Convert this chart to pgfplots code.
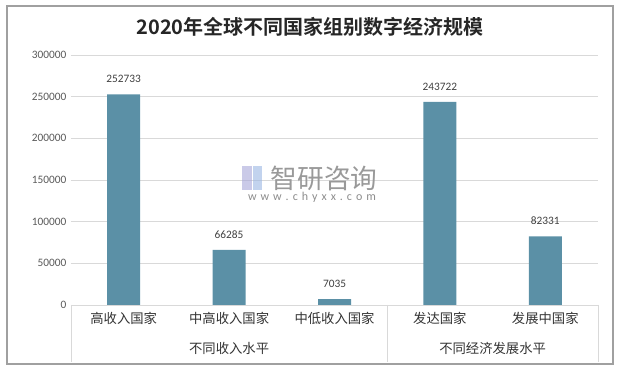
\documentclass[border=0pt]{standalone}
\usepackage{pgfplots}
\pgfplotsset{compat=1.18}
\usepackage{fontspec}
\setmainfont{Carlito}
\newfontfamily\cjk{Noto Sans CJK SC}
\newfontfamily\cjkb{Noto Sans CJK SC}[UprightFont=* Bold]
\definecolor{barc}{RGB}{91,144,166}
\definecolor{gridc}{RGB}{217,217,217}
\definecolor{tickc}{RGB}{89,89,89}
\definecolor{framec}{RGB}{160,160,160}
\begin{document}
\begin{tikzpicture}
\path[use as bounding box] (0,0) rectangle (465.75pt,277.5pt);
\draw[framec, line width=0.9pt] (5.25pt,4.5pt) rectangle (459.75pt,273pt);
\node[font=\cjkb\fontsize{15pt}{18pt}\selectfont, text=black!85] at (232.5pt,257.25pt) {2020年全球不同国家组别数字经济规模};
\begin{axis}[
  at={(53.25pt,48.75pt)}, anchor=south west,
  scale only axis, width=395.25pt, height=187.5pt,
  ybar, bar width=24.75pt,
  xmin=-0.5, xmax=4.5, ymin=0, ymax=300000,
  xtick=data,
  xticklabels={高收入国家,中高收入国家,中低收入国家,发达国家,发展中国家},
  xticklabel style={font=\cjk\fontsize{10pt}{12pt}\selectfont, text=black!80, yshift=-2pt},
  ytick={0,50000,...,300000},
  scaled y ticks=false,
  yticklabel style={/pgf/number format/fixed, /pgf/number format/set thousands separator={}, /pgf/number format/assume math mode=true, font=\fontsize{8.5pt}{10pt}\selectfont, text=tickc},
  major tick length=0pt,
  ymajorgrids, grid style={gridc, line width=0.6pt},
  axis line style={draw=none},
  axis x line*=bottom, axis y line*=left,
  nodes near coords,
  nodes near coords style={font=\fontsize{8.5pt}{10pt}\selectfont, text=black!75, yshift=5pt, /pgf/number format/fixed, /pgf/number format/set thousands separator={}, /pgf/number format/assume math mode=true},
  clip=false,
]
\addplot[fill=barc, draw=none] coordinates {(0,252733) (1,66285) (2,7035) (3,243722) (4,82331)};
\draw[gridc, line width=0.6pt] (axis cs:-0.5,0) -- (axis cs:4.5,0);
\draw[gridc, line width=0.6pt] (axis cs:-0.5,0) -- ([yshift=-42.75pt]axis cs:-0.5,0);
\draw[gridc, line width=0.6pt] (axis cs:2.5,0) -- ([yshift=-42.75pt]axis cs:2.5,0);
\draw[gridc, line width=0.6pt] (axis cs:4.5,0) -- ([yshift=-42.75pt]axis cs:4.5,0);
\node[font=\cjk\fontsize{10pt}{12pt}\selectfont, text=black!80] at ([yshift=-32.25pt]axis cs:1,0) {不同收入水平};
\node[font=\cjk\fontsize{10pt}{12pt}\selectfont, text=black!80] at ([yshift=-32.25pt]axis cs:3.5,0) {不同经济发展水平};
\end{axis}
% watermark
\fill[blue!40!gray!50, opacity=0.6] (181.5pt,135pt) rectangle (189pt,153pt);
\fill[cyan!50!blue!40, opacity=0.6] (190pt,135pt) rectangle (196.5pt,153pt);
\node[font=\cjk\fontsize{20pt}{24pt}\selectfont, text=black!40] at (243pt,144pt) {智研咨询};
\node[font=\fontsize{9pt}{10pt}\selectfont, text=black!45] at (234pt,129.75pt) {w\,\,w\,\,w\,\,.\,\,c\,\,h\,\,y\,\,x\,\,x\,\,.\,\,c\,\,o\,\,m};
\end{tikzpicture}
\end{document}
